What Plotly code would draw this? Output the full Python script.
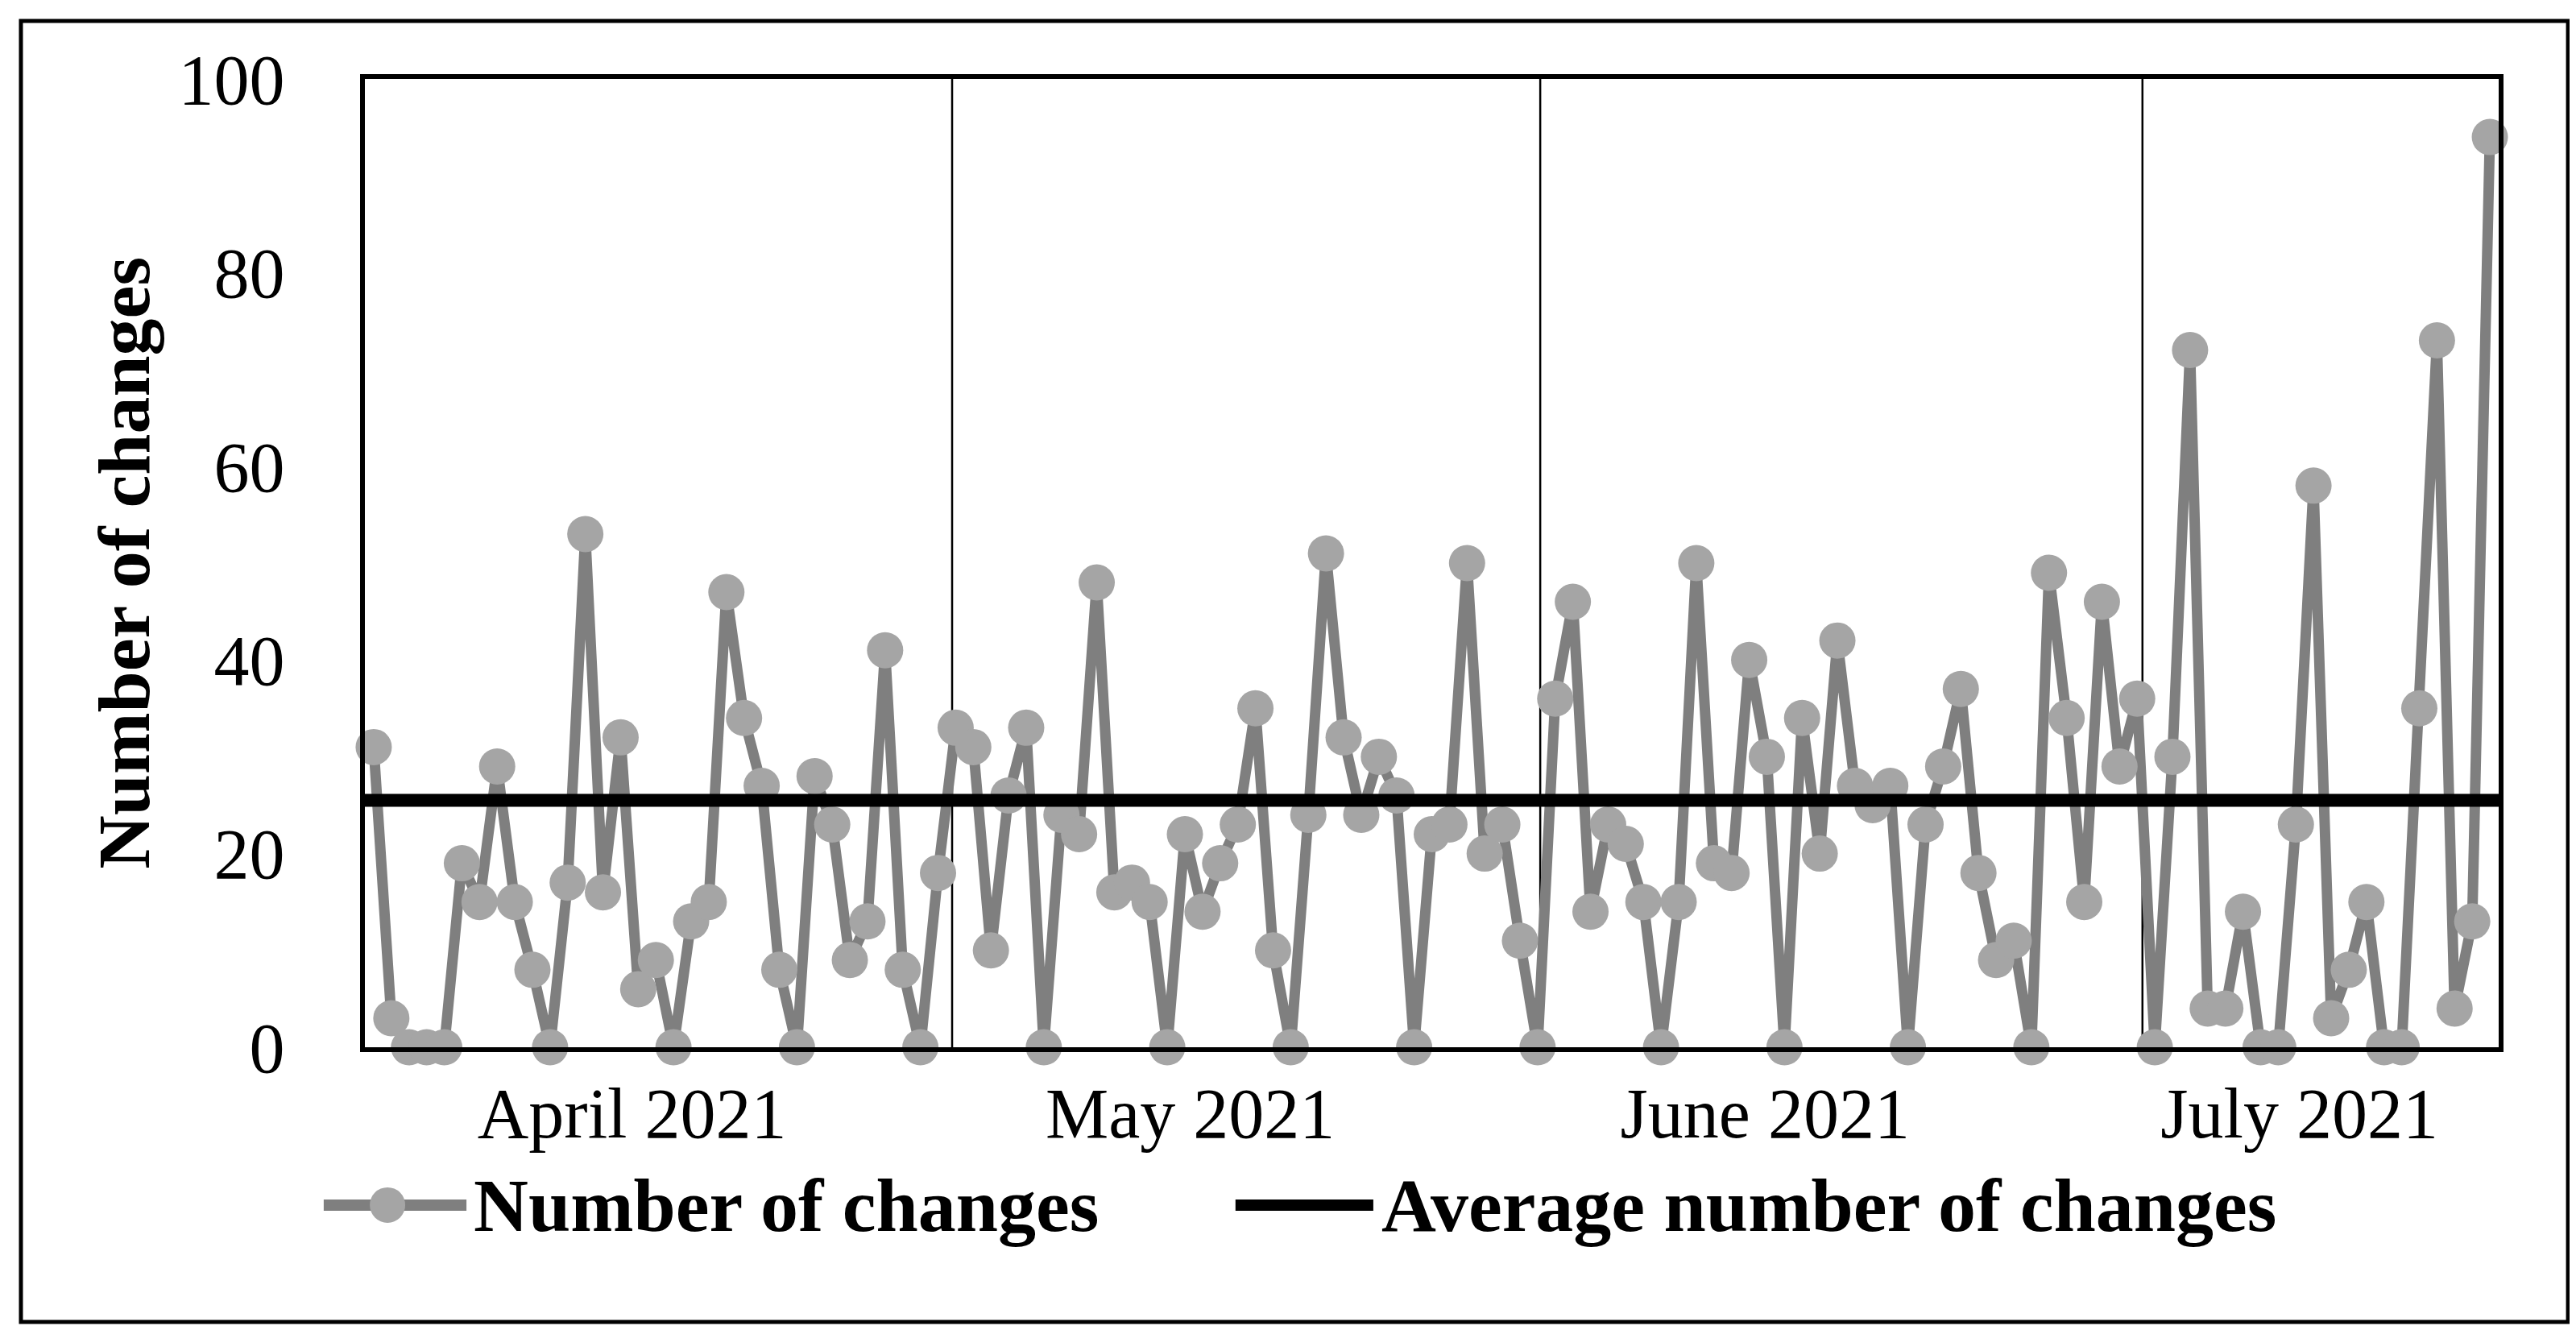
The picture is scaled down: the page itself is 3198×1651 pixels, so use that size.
import plotly.graph_objects as go

# ---- data ----
april = [31, 3, 0, 0, 0, 19, 15, 29, 15, 8, 0, 17, 53, 16, 32, 6, 9, 0, 13, 15, 47, 34, 27, 8, 0, 28, 23, 9, 13, 41, 8, 0, 18]
may = [33, 31, 10, 26, 33, 0, 24, 22, 48, 16, 17, 15, 0, 22, 14, 19, 23, 35, 10, 0, 24, 51, 32, 24, 30, 26, 0, 22, 23, 50, 20, 23, 11, 0]
june = [36, 46, 14, 23, 21, 15, 0, 15, 50, 19, 18, 40, 30, 0, 34, 20, 42, 27, 25, 27, 0, 23, 29, 37, 18, 9, 11, 0, 49, 34, 15, 46, 29, 36]
july = [0, 30, 72, 4, 4, 14, 0, 0, 23, 58, 3, 8, 15, 0, 0, 35, 73, 4, 13, 94]
average_changes = 25.5
month_labels = ["April 2021", "May 2021", "June 2021", "July 2021"]
y_ticks = [0, 20, 40, 60, 80, 100]

changes = april + may + june + july
idx = list(range(len(changes)))

# ---- layout constants (positions in category-index units) ----
month_label_pos = [14.65, 46.3, 78.9, 109.2]
month_boundaries = [32.8, 66.15, 100.3]
x_lo, x_hi = idx[0] - 0.5, idx[-1] + 0.5

FONT = "Liberation Serif"
GRAY_LINE = "#7f7f7f"
GRAY_MARK = "#a5a5a5"

fig = go.Figure()
fig.add_trace(go.Scatter(
    x=idx, y=changes, mode="lines+markers", name="Number of changes",
    line=dict(color=GRAY_LINE, width=13),
    marker=dict(color=GRAY_MARK, size=45, line=dict(width=0)),
    cliponaxis=False, showlegend=False))
fig.add_trace(go.Scatter(
    x=[x_lo, x_hi], y=[average_changes, average_changes], mode="lines",
    name="Average number of changes",
    line=dict(color="black", width=16), cliponaxis=False, showlegend=False))

shapes = []
for b in month_boundaries:
    shapes.append(dict(type="line", xref="x", yref="paper", x0=b, x1=b, y0=0, y1=1,
                       line=dict(color="black", width=2.5), layer="below"))
# outer frame of the figure
shapes.append(dict(type="rect", xref="paper", yref="paper",
                   x0=-0.1612, x1=1.0325, y0=-0.2837, y1=1.0599,
                   line=dict(color="black", width=5)))
# legend symbols
ly = -0.163
shapes.append(dict(type="line", xref="paper", yref="paper", x0=-0.0193, x1=0.0476, y0=ly, y1=ly,
                   line=dict(color=GRAY_LINE, width=14)))
shapes.append(dict(type="circle", xref="paper", yref="paper", xsizemode="pixel", ysizemode="pixel",
                   xanchor=0.0106, yanchor=ly, x0=-22, x1=22, y0=-22, y1=22,
                   fillcolor=GRAY_MARK, line=dict(width=0)))
shapes.append(dict(type="line", xref="paper", yref="paper", x0=0.408, x1=0.4726, y0=ly, y1=ly,
                   line=dict(color="black", width=14)))

annotations = [
    dict(text="<b>Number of changes</b>", xref="paper", yref="paper", x=0.0502, y=ly,
         xanchor="left", yanchor="middle", showarrow=False,
         font=dict(family=FONT, size=94, color="black")),
    dict(text="<b>Average number of changes</b>", xref="paper", yref="paper", x=0.4757, y=ly,
         xanchor="left", yanchor="middle", showarrow=False,
         font=dict(family=FONT, size=94, color="black")),
    dict(text="<b>Number of changes</b>", xref="paper", yref="paper", x=-0.113, y=0.5,
         xanchor="center", yanchor="middle", textangle=-90, showarrow=False,
         font=dict(family=FONT, size=92, color="black")),
]

fig.update_layout(
    width=3198, height=1651,
    margin=dict(l=445, r=104, t=90, b=359),
    paper_bgcolor="white", plot_bgcolor="white",
    shapes=shapes, annotations=annotations,
    showlegend=False,
    font=dict(family=FONT, color="black"),
)
fig.update_xaxes(
    range=[x_lo, x_hi], tickmode="array", tickvals=month_label_pos, ticktext=month_labels,
    ticks="", showgrid=False, zeroline=False,
    showline=True, linecolor="black", linewidth=6, mirror=True,
    tickfont=dict(family=FONT, size=88, color="black"), ticklabelstandoff=0)
fig.update_yaxes(
    range=[0, 100], tickmode="array", tickvals=y_ticks,
    ticks="", showgrid=False, zeroline=False,
    showline=True, linecolor="black", linewidth=6, mirror=True,
    tickfont=dict(family=FONT, size=88, color="black"), ticklabelstandoff=76)

fig.write_html("out.html")
